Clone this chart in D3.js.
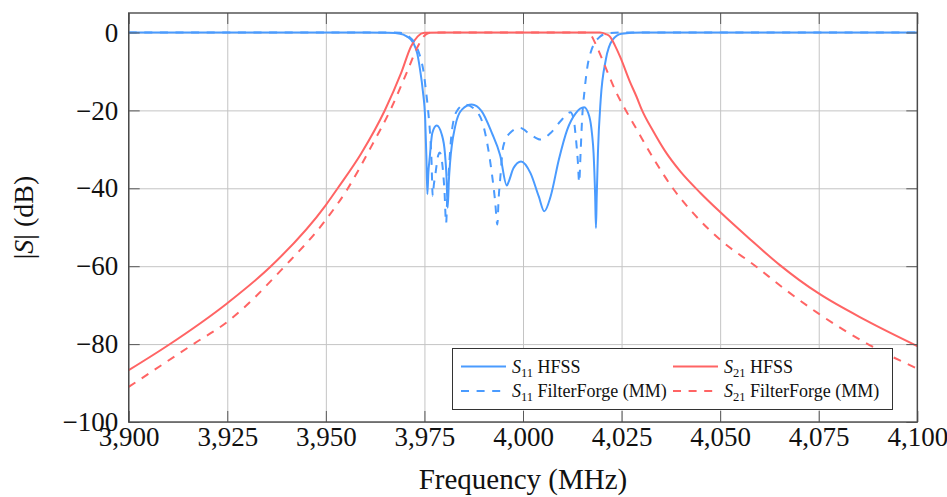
<!DOCTYPE html>
<html>
<head>
<meta charset="utf-8">
<script src="https://cdn.jsdelivr.net/npm/d3@7"></script>
<style>
  body { margin: 0; background: #fff; }
  svg { display: block; font-family: "Liberation Serif", "DejaVu Serif", serif; }
</style>
</head>
<body>
<svg width="947" height="497"></svg>
<script>
// values
const s11HfssFreq = [3900, 3960, 3966, 3968.8, 3970.5, 3972.2, 3973.2, 3973.9, 3974.6, 3975.2, 3975.5, 3975.75, 3976.0, 3976.3, 3977, 3978.1, 3979.4, 3980.2, 3980.6, 3980.9, 3981.2, 3981.5, 3982.8, 3984.5, 3987, 3989.5, 3992.1, 3994.2, 3995.9, 3996.3, 3997.6, 3999.5, 4001.9, 4004, 4005.4, 4007, 4009.1, 4011.2, 4013.4, 4015.5, 4016.8, 4017.5, 4017.9, 4018.3, 4018.5, 4018.7, 4019, 4019.7, 4021, 4022.7, 4025, 4030, 4100]
const s11HfssDb = [0, 0, -0.1, -0.3, -1, -2.7, -5.5, -9.6, -15, -22.4, -32, -41.5, -36, -32.6, -25.8, -23.9, -26.2, -31, -37, -45, -38, -33.5, -24.1, -19.8, -18.5, -20.2, -25.8, -31.5, -39.3, -38.5, -34.8, -33.1, -36.1, -42.1, -45.9, -42.1, -32.6, -25, -20.7, -19.2, -21.5, -26, -31, -42, -50.2, -42, -31, -17.3, -7, -1.9, -0.3, 0, 0]

const s11MmFreq = [3900, 3965, 3968.8, 3971, 3973, 3974, 3974.7, 3975.4, 3976, 3976.5, 3976.8, 3977.1, 3977.4, 3977.7, 3978.5, 3978.9, 3979.6, 3980.1, 3980.5, 3980.8, 3981.1, 3981.9, 3983.2, 3985.3, 3987.8, 3990, 3991.6, 3992.9, 3993.5, 3993.8, 3994.2, 3995, 3996.7, 3999.2, 4001.9, 4004.4, 4007, 4009.5, 4012, 4012.8, 4013.4, 4013.9, 4014.25, 4014.6, 4015, 4015.6, 4016.3, 4017.2, 4018.3, 4019.5, 4021.5, 4025, 4100]
const s11MmDb = [0, 0, -0.1, -1, -3.6, -6.5, -9.6, -15, -20.7, -27, -33, -42, -39, -37, -31.5, -30.8, -34.4, -41, -49, -42, -37, -25.8, -20.2, -18.5, -19.8, -24.1, -32.6, -43, -49.3, -43, -37.8, -29.2, -25.8, -24.5, -26.2, -27.5, -25.8, -22.8, -20.5, -22, -27, -33, -38.5, -31, -22, -15, -9, -5, -2.5, -1.1, -0.2, 0, 0]

const s21HfssFreq = [3900, 3910, 3925, 3936, 3950, 3953, 3959, 3965, 3969.1, 3971.6, 3973.3, 3975, 3980, 4019.5, 4021, 4022, 4023.3, 4024.7, 4027.1, 4028.8, 4030.2, 4033, 4036, 4040, 4045, 4050, 4057.5, 4065, 4070, 4075, 4087, 4100]
const s21HfssDb = [-86.7, -80.3, -69.5, -60.1, -44.3, -40, -31, -19.9, -10.4, -3.6, -1.0, -0.1, 0, 0, -0.4, -1, -3.3, -6.4, -12.6, -16.5, -20, -25.3, -30.4, -35.8, -41.2, -46.1, -53, -59.6, -63.5, -67, -73.9, -80.5]

const s21MmFreq = [3900, 3916.7, 3925, 3939.5, 3950, 3955.6, 3961.5, 3966.6, 3970.8, 3973.3, 3975.4, 3977, 4016, 4017.3, 4018.7, 4021.2, 4023.7, 4026.3, 4028.9, 4033, 4038, 4043, 4050, 4059, 4066, 4074.7, 4088, 4100]
const s21MmDb = [-91, -79.8, -74.3, -60.1, -48.1, -40, -29.3, -19.4, -9.6, -3.6, -0.5, 0, 0, -0.8, -3.6, -9.6, -15.5, -20.4, -25, -32.2, -40, -46.2, -53.2, -60, -65.6, -72, -80.3, -86.3]

const xTicks = [3900, 3925, 3950, 3975, 4000, 4025, 4050, 4075, 4100]
const yTicks = [-100, -80, -60, -40, -20, 0]

const blue = '#4a9bff'
const red = '#ff6464'

const series = [
  { name: 'HFSS', sub: '11', freq: s11HfssFreq, db: s11HfssDb, color: blue, dash: null },
  { name: 'HFSS', sub: '21', freq: s21HfssFreq, db: s21HfssDb, color: red, dash: null },
  { name: 'FilterForge (MM)', sub: '11', freq: s11MmFreq, db: s11MmDb, color: blue, dash: '8,7.6' },
  { name: 'FilterForge (MM)', sub: '21', freq: s21MmFreq, db: s21MmDb, color: red, dash: '8,7.6' }
]

const plotL = 128.7, plotR = 917.3, plotT = 13, plotB = 422
const svg = d3.select('svg')

const x = d3.scaleLinear().domain([3900, 4100]).range([plotL, plotR])
const y = d3.scaleLinear().domain([-100, 5]).range([plotB, plotT])

// grid
svg.append('g')
  .attr('transform', `translate(0,${plotB})`)
  .call(d3.axisBottom(x).tickValues(xTicks).tickSize(-(plotB - plotT)).tickFormat(''))
  .call(g => g.select('.domain').remove())
  .selectAll('line').attr('stroke', '#c4c4c4').attr('stroke-width', 1)

svg.append('g')
  .attr('transform', `translate(${plotL},0)`)
  .call(d3.axisLeft(y).tickValues(yTicks).tickSize(-(plotR - plotL)).tickFormat(''))
  .call(g => g.select('.domain').remove())
  .selectAll('line').attr('stroke', '#c4c4c4').attr('stroke-width', 1)

// curves
const line = d3.line()
  .x(d => x(d[0]))
  .y(d => y(d[1]))
  .curve(d3.curveMonotoneX)

series.forEach(s => {
  svg.append('path')
    .datum(d3.zip(s.freq, s.db))
    .attr('fill', 'none')
    .attr('stroke', s.color)
    .attr('stroke-width', 2)
    .attr('stroke-dasharray', s.dash)
    .attr('d', line)
})

// axes with inward ticks
const tickColor = '#5a5a5a'
const styleAxis = g => {
  g.select('.domain').remove()
  g.selectAll('line').attr('stroke', tickColor).attr('stroke-width', 1)
  g.selectAll('text').attr('fill', '#111').attr('font-size', 27)
    .attr('font-family', '"Liberation Serif", serif')
}

svg.append('g')
  .attr('transform', `translate(0,${plotB})`)
  .call(d3.axisBottom(x).tickValues(xTicks).tickSizeInner(-11).tickSizeOuter(0).tickPadding(5).tickFormat(d3.format(',')))
  .call(styleAxis)

svg.append('g')
  .attr('transform', `translate(0,${plotT})`)
  .call(d3.axisTop(x).tickValues(xTicks).tickSizeInner(-11).tickSizeOuter(0).tickFormat(''))
  .call(styleAxis)

svg.append('g')
  .attr('transform', `translate(${plotL},0)`)
  .call(d3.axisLeft(y).tickValues(yTicks).tickSizeInner(-11).tickSizeOuter(0).tickPadding(10.5).tickFormat(d3.format('')))
  .call(styleAxis)

svg.append('g')
  .attr('transform', `translate(${plotR},0)`)
  .call(d3.axisRight(y).tickValues(yTicks).tickSizeInner(-11).tickSizeOuter(0).tickFormat(''))
  .call(styleAxis)

// frame
svg.append('rect')
  .attr('x', plotL).attr('y', plotT)
  .attr('width', plotR - plotL).attr('height', plotB - plotT)
  .attr('fill', 'none')
  .attr('stroke', '#4a4a4a')
  .attr('stroke-width', 1.4)

// axis labels
svg.append('text')
  .attr('x', (plotL + plotR) / 2)
  .attr('y', 489)
  .attr('text-anchor', 'middle')
  .attr('font-size', 29)
  .attr('fill', '#111')
  .text('Frequency (MHz)')

const yLabel = svg.append('text')
  .attr('transform', `translate(33,${(plotT + plotB) / 2}) rotate(-90)`)
  .attr('text-anchor', 'middle')
  .attr('font-size', 28)
  .attr('fill', '#111')
yLabel.append('tspan').text('|')
yLabel.append('tspan').attr('font-style', 'italic').text('S')
yLabel.append('tspan').text('| (dB)')

// legend
const legend = svg.append('g')
legend.append('rect')
  .attr('x', 452.5).attr('y', 348.5)
  .attr('width', 440).attr('height', 61)
  .attr('fill', '#fff')
  .attr('stroke', '#333')
  .attr('stroke-width', 1)

const colX = [461, 673]
const rowY = [366.5, 391]
series.forEach((s, i) => {
  const cx = colX[i % 2]
  const cy = rowY[Math.floor(i / 2)]
  legend.append('line')
    .attr('x1', cx).attr('x2', cx + 45)
    .attr('y1', cy).attr('y2', cy)
    .attr('stroke', s.color)
    .attr('stroke-width', 2)
    .attr('stroke-dasharray', s.dash)
  const t = legend.append('text')
    .attr('x', cx + 51)
    .attr('y', cy + 6)
    .attr('font-size', 18)
    .attr('fill', '#111')
  t.append('tspan').attr('font-style', 'italic').text('S')
  t.append('tspan').attr('font-size', 12.5).attr('dy', 4).text(s.sub)
  t.append('tspan').attr('dy', -4).text(' ' + s.name)
})
</script>
</body>
</html>
